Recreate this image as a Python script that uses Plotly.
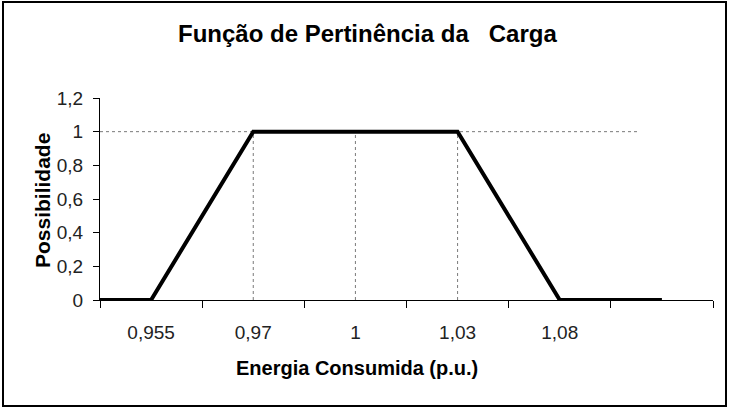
import plotly.graph_objects as go

# ---- data ----
energy_labels = ["0,955", "0,97", "1", "1,03", "1,08", ""]
possibility = [0, 1, 1, 1, 0, 0]
start_possibility = 0          # value at left edge of the axis
y_tick_values = [0, 0.2, 0.4, 0.6, 0.8, 1.0, 1.2]
y_tick_labels = ["0", "0,2", "0,4", "0,6", "0,8", "1", "1,2"]
guide_level = 1
guide_end = 4.78               # extent of the dotted horizontal guide (category units)

# ---- layout geometry (pixels) ----
W, H = 734, 409
L, R, T, B = 100, 713, 98, 300


def px(xp):
    return (xp - L) / (R - L)


def py(yp):
    return (B - yp) / (B - T)


n = len(energy_labels)
cat_idx = list(range(n))
x_line = [-0.5] + cat_idx
y_line = [start_possibility] + possibility

fig = go.Figure()

# dotted vertical guides where possibility reaches the top level
for i, v in zip(cat_idx, possibility):
    if v == guide_level:
        fig.add_trace(go.Scatter(x=[i, i], y=[0, v], mode="lines",
                                 line=dict(color="#7a7a7a", width=1, dash="dot"),
                                 hoverinfo="skip", showlegend=False))
# dotted horizontal guide
fig.add_trace(go.Scatter(x=[-0.5, guide_end], y=[guide_level, guide_level], mode="lines",
                         line=dict(color="#7a7a7a", width=1, dash="dot"),
                         hoverinfo="skip", showlegend=False))

# membership function
fig.add_trace(go.Scatter(x=x_line, y=y_line, mode="lines",
                         line=dict(color="black", width=4),
                         showlegend=False))

fig.update_layout(
    width=W, height=H,
    margin=dict(l=L, r=W - R, t=T, b=H - B),
    paper_bgcolor="white", plot_bgcolor="white",
    font=dict(family="Liberation Sans, Arial, sans-serif", color="black"),
    xaxis=dict(
        range=[-0.5, n - 0.5],
        tickmode="array", tickvals=cat_idx, ticktext=energy_labels,
        ticks="", showgrid=False, zeroline=False,
        showline=True, linecolor="black", linewidth=1,
        tickfont=dict(size=19, color="#222222"), ticklabelstandoff=15,
        minor=dict(tick0=0.5, dtick=1, ticks="outside", ticklen=7,
                   tickcolor="black", tickwidth=1, showgrid=False),
    ),
    yaxis=dict(
        range=[0, 1.2],
        tickmode="array", tickvals=y_tick_values, ticktext=y_tick_labels,
        ticks="outside", ticklen=6, tickcolor="black", tickwidth=1,
        showgrid=False, zeroline=False,
        showline=True, linecolor="black", linewidth=1,
        tickfont=dict(size=19, color="#222222"), ticklabelstandoff=6,
    ),
    annotations=[
        dict(text="Função de Pertinência da\u00a0\u00a0\u00a0Carga", xref="paper", yref="paper",
             x=px(367), y=py(34), xanchor="center", yanchor="middle", showarrow=False,
             font=dict(size=24, family="Liberation Sans, Arial, sans-serif", weight="bold")),
        dict(text="Energia Consumida (p.u.)", xref="paper", yref="paper",
             x=px(357), y=py(368), xanchor="center", yanchor="middle", showarrow=False,
             font=dict(size=20, family="Liberation Sans, Arial, sans-serif", weight="bold")),
        dict(text="Possibilidade", xref="paper", yref="paper", textangle=-90,
             x=px(42), y=py(201), xanchor="center", yanchor="middle", showarrow=False,
             font=dict(size=21, family="Liberation Sans, Arial, sans-serif", weight="bold")),
    ],
    shapes=[
        dict(type="rect", xref="paper", yref="paper",
             x0=px(3), x1=px(726), y0=py(406), y1=py(2),
             line=dict(color="black", width=2), layer="below"),
    ],
)

fig.write_html("out.html")
